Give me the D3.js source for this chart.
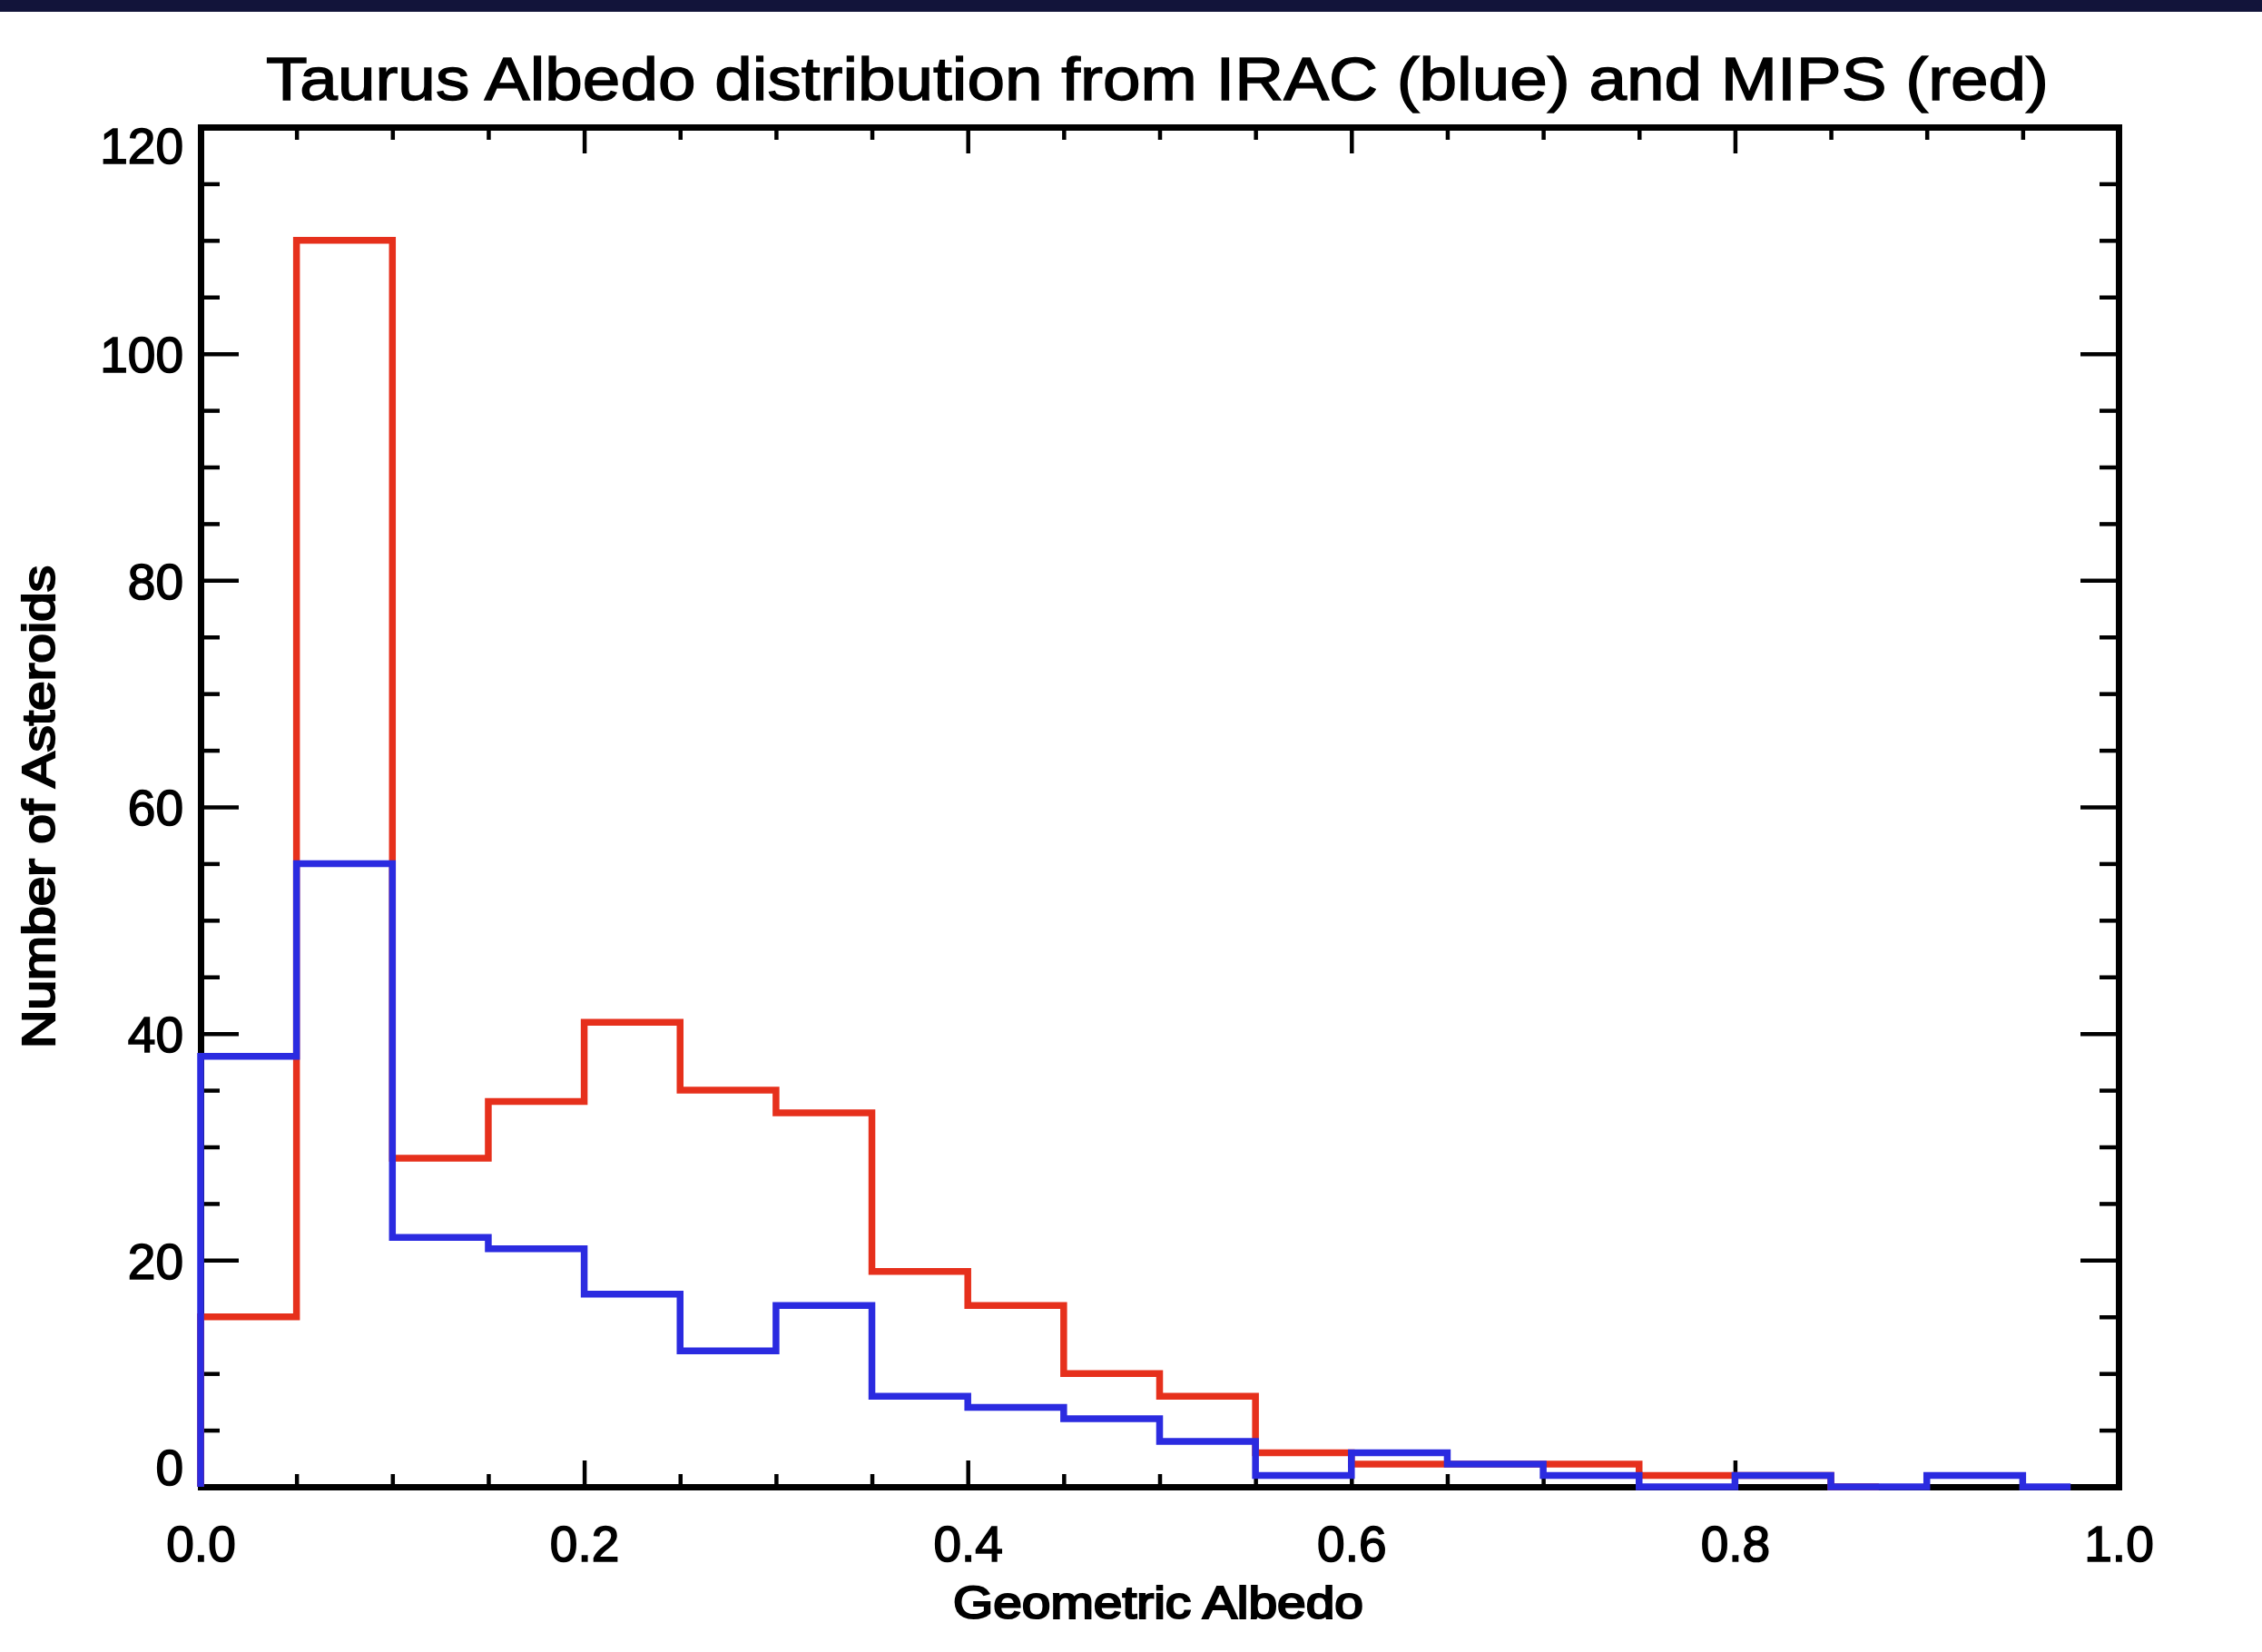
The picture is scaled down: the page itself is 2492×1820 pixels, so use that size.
<!DOCTYPE HTML>
<html>
    <head>
        <meta charset="utf-8">
        <script src="https://d3js.org/d3.v7.min.js"></script>
        <style>
            body { margin: 0; background: #ffffff; }
            svg { display: block; font-family: "Liberation Sans", Arial, sans-serif; }
            .axis path, .axis line { stroke: #000; }
            .axis text { fill: #000; stroke: #000; stroke-width: 1.6px; }
            .label { fill: #000; stroke: #000; stroke-width: 1.4px; }
            .axlabel { fill: #000; stroke: #000; stroke-width: 2.2px; }
        </style>
    </head>
    <body>
        <svg width="2492" height="1820"></svg>
        <script>

            // histogram bins (left edges), counts
            var binStarts = [0.00, 0.05, 0.10, 0.15, 0.20, 0.25, 0.30, 0.35, 0.40, 0.45,
                             0.50, 0.55, 0.60, 0.65, 0.70, 0.75, 0.80, 0.85, 0.90, 0.95];
            var mipsCounts = [15, 110, 29, 34, 41, 35, 33, 19, 16, 10,
                              8, 3, 2, 2, 2, 1, 1, 0];
            var iracCounts = [38, 55, 22, 21, 17, 12, 16, 8, 7, 6,
                              4, 1, 3, 2, 1, 0, 1, 0, 1, 0];
            var mipsEnd = 0.875, iracEnd = 0.975;
            var xMajor = [0.0, 0.2, 0.4, 0.6, 0.8, 1.0];
            var xLabels = ["0.0", "0.2", "0.4", "0.6", "0.8", "1.0"];
            var xMinor = [0.05, 0.1, 0.15, 0.25, 0.3, 0.35, 0.45, 0.5, 0.55, 0.65, 0.7, 0.75, 0.85, 0.9, 0.95];
            var yMajor = [0, 20, 40, 60, 80, 100, 120];
            var yMinor = [5, 10, 15, 25, 30, 35, 45, 50, 55, 65, 70, 75, 85, 90, 95, 105, 110, 115];

            var svg = d3.select("svg");
            var plotLeft = 221, plotRight = 2334, plotTop = 140, plotBottom = 1638;
            var width = plotRight - plotLeft, height = plotBottom - plotTop;

            // dark band along the top edge
            svg.append("rect").attr("x", 0).attr("y", 0)
               .attr("width", 2492).attr("height", 13).attr("fill", "#12143a");

            var x = d3.scaleLinear().domain([0, 1]).range([0, width]);
            var y = d3.scaleLinear().domain([0, 120]).range([height, 0]);

            var g = svg.append("g").attr("transform", "translate(" + plotLeft + "," + plotTop + ")");

            function styleAxis(sel, lw) {
                sel.attr("class", "axis");
                sel.select(".domain").attr("stroke-width", 7).attr("stroke-linecap", "square");
                sel.selectAll(".tick line").attr("stroke-width", lw);
            }

            // bottom axis
            g.append("g").attr("transform", "translate(0," + height + ")")
             .call(d3.axisBottom(x).tickValues(xMinor).tickSize(-14).tickSizeOuter(0).tickFormat(""))
             .call(styleAxis, 4.5);
            var xb = g.append("g").attr("transform", "translate(0," + height + ")")
             .call(d3.axisBottom(x).tickValues(xMajor).tickSize(-29).tickSizeOuter(0)
                   .tickPadding(82).tickFormat(function(d, i) { return xLabels[i]; }))
             .call(styleAxis, 4.5);
            xb.selectAll("text").attr("font-size", 55).attr("dy", 0);

            // top axis
            g.append("g")
             .call(d3.axisTop(x).tickValues(xMinor).tickSize(-14).tickSizeOuter(0).tickFormat(""))
             .call(styleAxis, 4.5);
            g.append("g")
             .call(d3.axisTop(x).tickValues(xMajor).tickSize(-29).tickSizeOuter(0).tickFormat(""))
             .call(styleAxis, 4.5);

            // left axis
            g.append("g")
             .call(d3.axisLeft(y).tickValues(yMinor).tickSize(-21).tickSizeOuter(0).tickFormat(""))
             .call(styleAxis, 4.5);
            var yl = g.append("g")
             .call(d3.axisLeft(y).tickValues(yMajor).tickSize(-42).tickSizeOuter(0).tickPadding(19))
             .call(styleAxis, 4.5);
            yl.selectAll("text").attr("font-size", 55)
              .attr("dy", function(d) { return d === 120 ? "0.72em" : (d === 0 ? "-0.05em" : "0.36em"); });

            // right axis
            g.append("g").attr("transform", "translate(" + width + ",0)")
             .call(d3.axisRight(y).tickValues(yMinor).tickSize(-21).tickSizeOuter(0).tickFormat(""))
             .call(styleAxis, 4.5);
            g.append("g").attr("transform", "translate(" + width + ",0)")
             .call(d3.axisRight(y).tickValues(yMajor).tickSize(-42).tickSizeOuter(0).tickFormat(""))
             .call(styleAxis, 4.5);

            // histograms
            function stepPoints(counts, end) {
                var pts = [[0, 0]];
                counts.forEach(function(c, i) { pts.push([binStarts[i], c]); });
                pts.push([end, counts[counts.length - 1]]);
                return pts;
            }
            var line = d3.line()
                .x(function(d) { return x(d[0]); })
                .y(function(d) { return y(d[1]); })
                .curve(d3.curveStepAfter);

            g.append("path").datum(stepPoints(mipsCounts, mipsEnd))
             .attr("d", line).attr("fill", "none")
             .attr("stroke", "#e6301c").attr("stroke-width", 7.5);
            g.append("path").datum(stepPoints(iracCounts, iracEnd))
             .attr("d", line).attr("fill", "none")
             .attr("stroke", "#2b2be0").attr("stroke-width", 7.5);

            // titles
            svg.append("text")
               .attr("class", "label")
               .attr("x", 1275).attr("y", 110)
               .attr("text-anchor", "middle")
               .attr("font-size", 67)
               .attr("textLength", 1964).attr("lengthAdjust", "spacingAndGlyphs")
               .text("Taurus Albedo distribution from IRAC (blue) and MIPS (red)");

            svg.append("text")
               .attr("class", "axlabel")
               .attr("x", 1276).attr("y", 1783)
               .attr("text-anchor", "middle")
               .attr("font-size", 50)
               .attr("textLength", 452).attr("lengthAdjust", "spacingAndGlyphs")
               .text("Geometric Albedo");

            svg.append("text")
               .attr("class", "axlabel")
               .attr("transform", "translate(60,889) rotate(-90)")
               .attr("text-anchor", "middle")
               .attr("font-size", 50)
               .attr("textLength", 532).attr("lengthAdjust", "spacingAndGlyphs")
               .text("Number of Asteroids");
        </script>
    </body>
</html>
